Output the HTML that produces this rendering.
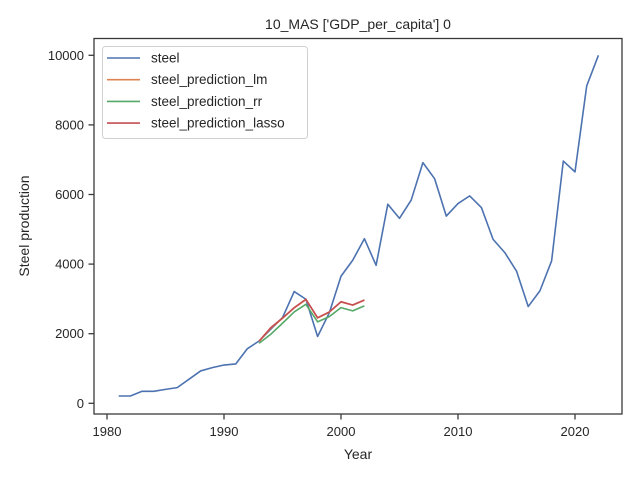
<!DOCTYPE html>
<html><head><meta charset="utf-8"><style>
body{margin:0;background:#fff;}
svg{display:block;font-family:"Liberation Sans","DejaVu Sans",sans-serif;}
</style></head><body>
<svg id="chart" width="640" height="480" viewBox="0 0 640 480">
<rect x="0" y="0" width="640" height="480" fill="#fff"/>
<text x="358" y="29" text-anchor="middle" font-size="14" fill="#262626">10_MAS ['GDP_per_capita'] 0</text>
<g id="grid-x"></g>
<g id="grid-y"></g>
<g id="series"></g>
<rect x="94" y="38.5" width="528" height="375.5" fill="none" stroke="#3a3a3a" stroke-width="1.3"/>
<text x="358" y="459" text-anchor="middle" font-size="14" fill="#262626">Year</text>
<text x="29" y="226" text-anchor="middle" font-size="14" fill="#262626" transform="rotate(-90 29 226)">Steel production</text>
<g id="legend">
<rect x="102.5" y="46.5" width="205" height="92" rx="3" fill="#fff" fill-opacity="0.8" stroke="#d0d0d0"/>
</g>
</svg>
<script>
const years=[1981,1982,1983,1984,1985,1986,1987,1988,1989,1990,1991,1992,1993,1994,1995,1996,1997,1998,1999,2000,2001,2002,2003,2004,2005,2006,2007,2008,2009,2010,2011,2012,2013,2014,2015,2016,2017,2018,2019,2020,2021,2022];
const steel=[210,210,345,345,400,450,690,930,1025,1100,1130,1570,1790,2130,2460,3210,2990,1920,2600,3650,4110,4730,3965,5720,5315,5840,6915,6455,5380,5740,5960,5625,4710,4330,3800,2780,3230,4090,6960,6650,9120,10000];
const predYears=[1993,1994,1995,1996,1997,1998,1999,2000,2001,2002];
const predLm=[1780,2160,2440,2740,2980,2450,2620,2910,2820,2960];
const predRr=[1725,1985,2300,2625,2845,2340,2490,2750,2655,2800];
const predLasso=[1790,2175,2450,2750,2990,2460,2625,2920,2825,2970];
const xTicks=[1980,1990,2000,2010,2020];
const yTicks=[0,2000,4000,6000,8000,10000];
const seriesNames=["steel","steel_prediction_lm","steel_prediction_rr","steel_prediction_lasso"];

const NS="http://www.w3.org/2000/svg";
function xs(v){return 107+(v-1980)*11.7;}
function ys(v){return 403.3-v*0.0348;}
function mk(tag,attrs,parent){const e=document.createElementNS(NS,tag);for(const k in attrs)e.setAttribute(k,attrs[k]);parent.appendChild(e);return e;}
const gx=document.getElementById('grid-x'),gy=document.getElementById('grid-y'),gs=document.getElementById('series'),lg=document.getElementById('legend');
xTicks.forEach(t=>{
  const l=mk('line',{x1:xs(t),x2:xs(t),y1:414,y2:419.5,stroke:'#3a3a3a','stroke-width':1.3},gx);
  
  
  const tx=mk('text',{x:xs(t),y:436,'text-anchor':'middle','font-size':13,fill:'#262626'},gx);
  tx.textContent=t;
  
  
});
yTicks.forEach(t=>{
  const l=mk('line',{x1:88.5,x2:94,y1:ys(t),y2:ys(t),stroke:'#3a3a3a','stroke-width':1.3},gy);
  
  
  const tx=mk('text',{x:84,y:ys(t)+4.5,'text-anchor':'end','font-size':13,fill:'#262626'},gy);
  tx.textContent=t;
  
  
});
function line(xv,yv,color,name){
  const p=mk('polyline',{points:xv.map((x,i)=>xs(x)+','+ys(yv[i])).join(' '),fill:'none',stroke:color,'stroke-width':1.6,'stroke-linejoin':'round'},gs);
  
  
}
const colors=['#4c72b0','#dd8452','#55a868','#c44e52'];
line(years,steel,colors[0],'steel-line');
line(predYears,predLm,colors[1],'steel-prediction-lm-line');
line(predYears,predRr,colors[2],'steel-prediction-rr-line');
line(predYears,predLasso,colors[3],'steel-prediction-lasso-line');
seriesNames.forEach((n,i)=>{
  const y=58+i*21.7;
  const l=mk('line',{x1:107,x2:140,y1:y,y2:y,stroke:colors[i],'stroke-width':1.6},lg);
  
  
  const t=mk('text',{x:151,y:y+4.5,'font-size':13.5,fill:'#262626'},lg);
  t.textContent=n;
  
  
});
</script>
</body></html>
